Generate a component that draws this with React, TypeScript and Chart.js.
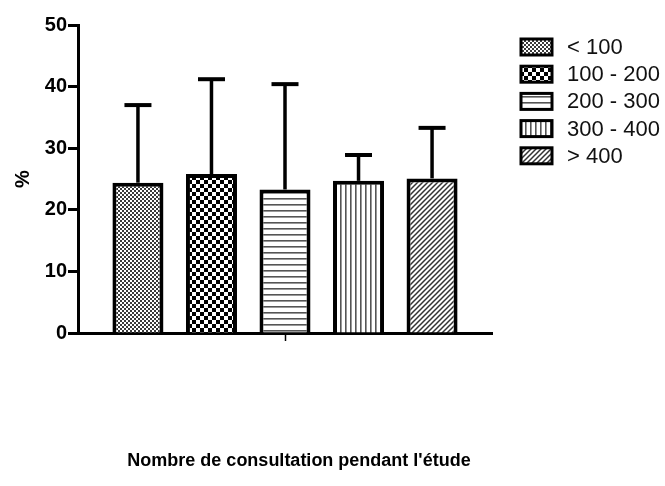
import React, { useEffect, useRef } from "react";
import { Chart, registerables } from "chart.js";

Chart.register(...registerables);

// Groups by number of consultations during the study
const groupLabels: string[] = ["< 100", "100 - 200", "200 - 300", "300 - 400", "> 400"];
// Mean percentage for each group
const meanValues: number[] = [24.4, 25.8, 23.3, 24.7, 25.1];
// Standard deviation (upper error bar) for each group
const sdValues: number[] = [12.6, 15.4, 17.1, 4.2, 8.2];
// Y axis ticks
const yTicks: number[] = [0, 10, 20, 30, 40, 50];

const FONT = "'Liberation Sans', Arial, Helvetica, sans-serif";

type PatternKind = "fineChecker" | "checker" | "hLines" | "vLines" | "diagonal";
const patternKinds: PatternKind[] = ["fineChecker", "checker", "hLines", "vLines", "diagonal"];

function makePattern(kind: PatternKind): CanvasPattern | string {
  const tile = document.createElement("canvas");
  let size = 8;
  if (kind === "fineChecker") size = 4;
  if (kind === "checker") size = 8;
  if (kind === "hLines") size = 6;
  if (kind === "vLines") size = 5;
  if (kind === "diagonal") size = 5;
  tile.width = size;
  tile.height = size;
  const c = tile.getContext("2d");
  if (!c) return "#fff";
  c.fillStyle = "#fff";
  c.fillRect(0, 0, size, size);
  if (kind === "fineChecker") {
    c.fillStyle = "#3a3a3a";
    c.fillRect(0, 0, 2, 2);
    c.fillRect(2, 2, 2, 2);
  } else if (kind === "checker") {
    c.fillStyle = "#000";
    c.fillRect(0, 0, 4, 4);
    c.fillRect(4, 4, 4, 4);
  } else if (kind === "hLines") {
    c.fillStyle = "#555";
    c.fillRect(0, 0, size, 1.6);
  } else if (kind === "vLines") {
    c.fillStyle = "#555";
    c.fillRect(0, 0, 1.6, size);
  } else if (kind === "diagonal") {
    c.strokeStyle = "#333";
    c.lineWidth = 1.5;
    c.beginPath();
    c.moveTo(-1, size + 1);
    c.lineTo(size + 1, -1);
    c.moveTo(-1, 1);
    c.lineTo(1, -1);
    c.moveTo(size - 1, size + 1);
    c.lineTo(size + 1, size - 1);
    c.stroke();
  }
  const p = c.createPattern(tile, "repeat");
  return p || "#fff";
}

// Error bars (mean + SD) on top of each bar
const errorBarPlugin = {
  id: "errorBars",
  afterDatasetsDraw(chart: any) {
    const ctx = chart.ctx;
    const y = chart.scales.y;
    ctx.save();
    ctx.strokeStyle = "#000";
    chart.data.datasets.forEach((ds: any, i: number) => {
      const meta = chart.getDatasetMeta(i);
      const bar = meta.data[0];
      if (!bar) return;
      const x = bar.x;
      const yTop = y.getPixelForValue(ds.data[0] + sdValues[i]);
      const yBase = y.getPixelForValue(ds.data[0]);
      ctx.lineWidth = 3.5;
      ctx.beginPath();
      ctx.moveTo(x, yBase);
      ctx.lineTo(x, yTop);
      ctx.stroke();
      ctx.lineWidth = 4;
      ctx.beginPath();
      ctx.moveTo(x - 13.5, yTop);
      ctx.lineTo(x + 13.5, yTop);
      ctx.stroke();
    });
    ctx.restore();
  },
};

// Legend with pattern swatches and the x axis caption
const legendPlugin = {
  id: "patternLegend",
  afterDraw(chart: any) {
    const ctx = chart.ctx;
    ctx.save();
    const rowStart = 47;
    const rowStep = 27.2;
    chart.data.datasets.forEach((ds: any, i: number) => {
      const cy = rowStart + i * rowStep;
      ctx.fillStyle = ds.backgroundColor;
      ctx.fillRect(521, cy - 8, 31, 16);
      ctx.strokeStyle = "#000";
      ctx.lineWidth = 3;
      ctx.strokeRect(521, cy - 8, 31, 16);
      ctx.fillStyle = "#111";
      ctx.font = `22px ${FONT}`;
      ctx.textAlign = "left";
      ctx.textBaseline = "middle";
      ctx.fillText(ds.label, 567, cy + 1);
    });
    ctx.fillStyle = "#000";
    ctx.font = `bold 18px ${FONT}`;
    ctx.textAlign = "center";
    ctx.textBaseline = "middle";
    ctx.fillText("Nombre de consultation pendant l'étude", 299, 461);
    ctx.restore();
  },
};

export default function App() {
  const canvasRef = useRef<HTMLCanvasElement | null>(null);

  useEffect(() => {
    document.body.style.margin = "0";
    const canvas = canvasRef.current;
    if (!canvas) return;

    const datasets = groupLabels.map((label, i) => ({
      label,
      data: [meanValues[i]],
      backgroundColor: makePattern(patternKinds[i]) as any,
      borderColor: "#000",
      borderWidth: 4,
      borderSkipped: "start" as const,
      categoryPercentage: 0.888,
      barPercentage: 0.694,
    }));

    const chart = new Chart(canvas, {
      type: "bar",
      data: { labels: [""], datasets },
      options: {
        responsive: false,
        animation: false,
        devicePixelRatio: 1,
        layout: { padding: { top: 25, right: 173, bottom: 0, left: 0 } },
        plugins: {
          legend: { display: false },
          tooltip: { enabled: false },
          title: { display: false },
        },
        scales: {
          x: {
            type: "category",
            offset: true,
            grid: {
              display: true,
              offset: false,
              drawOnChartArea: false,
              drawTicks: true,
              tickLength: 8,
              tickWidth: 1.5,
              tickColor: "#000",
            },
            border: { display: true, color: "#000", width: 3 },
            ticks: { display: true, color: "#000", font: { size: 1 } },
            afterFit: (s: any) => {
              s.height = 153;
            },
          },
          y: {
            min: yTicks[0],
            max: yTicks[yTicks.length - 1],
            afterBuildTicks: (s: any) => {
              s.ticks = yTicks.map((v) => ({ value: v }));
            },
            grid: {
              display: true,
              drawOnChartArea: false,
              drawTicks: true,
              tickLength: 10,
              tickWidth: 3,
              tickColor: "#000",
            },
            border: { display: true, color: "#000", width: 3 },
            ticks: {
              color: "#000",
              padding: 1,
              font: { family: FONT, size: 20, weight: "bold" },
            },
            title: {
              display: true,
              text: "%",
              color: "#000",
              font: { family: FONT, size: 20, weight: "bold" },
              padding: { top: 11, bottom: 0 },
            },
            afterFit: (s: any) => {
              s.width = 78;
            },
          },
        },
      },
      plugins: [errorBarPlugin, legendPlugin],
    });

    return () => chart.destroy();
  }, []);

  return (
    <div style={{ width: 665, height: 486, background: "#fff" }}>
      <canvas ref={canvasRef} width={665} height={486} />
    </div>
  );
}
